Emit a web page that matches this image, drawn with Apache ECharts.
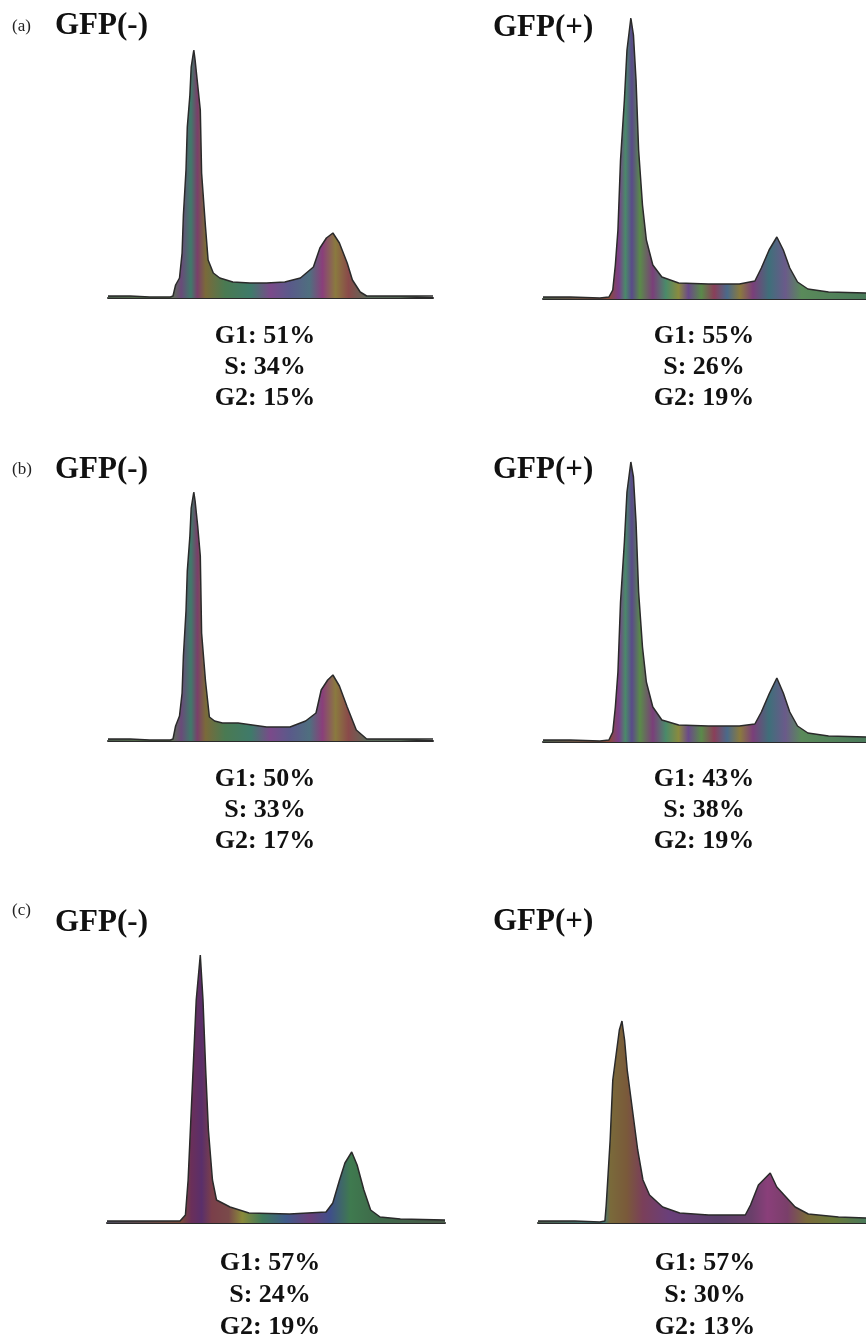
<!DOCTYPE html>
<html>
<head>
<meta charset="utf-8">
<script src="https://cdn.jsdelivr.net/npm/echarts@6/dist/echarts.min.js"></script>
<style>
html,body{margin:0;padding:0;background:#fff;}
#chart{width:866px;height:1336px;}
</style>
</head>
<body>
<div id="chart"></div>
<script>
// ---------------- DATA ----------------
// DNA-content histograms: [channel, cell count]
const aNeg = [[0,4],[17,4],[32,2],[48,2],[50,4],[52,26],[55,40],[57,90],[58,166],[60,256],[61,342],[63,406],[64,462],[66,496],[67,476],[69,426],[71,376],[72,250],[75,142],[77,76],[81,50],[86,40],[96,32],[109,30],[122,30],[136,32],[148,40],[158,62],[163,100],[168,120],[173,130],[178,110],[184,70],[188,36],[194,12],[199,4],[225,4],[250,4]];
const aPos = [[0,4],[21,4],[44,2],[51,4],[54,18],[56,68],[58,138],[60,278],[63,398],[65,498],[68,562],[70,528],[72,438],[74,298],[77,188],[80,118],[85,68],[92,44],[105,32],[128,30],[152,30],[164,36],[169,62],[175,98],[181,124],[186,98],[191,62],[197,34],[205,20],[221,14],[250,12]];
const bNeg = [[0,4],[17,4],[32,2],[48,2],[50,4],[52,30],[55,50],[57,96],[58,170],[60,260],[61,340],[63,410],[64,466],[66,498],[67,480],[69,430],[71,370],[72,216],[75,120],[78,48],[82,40],[88,36],[100,36],[122,28],[140,28],[152,40],[160,56],[164,102],[169,122],[173,132],[178,110],[184,68],[191,22],[199,4],[225,4],[250,4]];
const bPos = [[0,4],[21,4],[44,2],[51,4],[54,20],[56,70],[58,140],[60,280],[63,400],[65,500],[68,560],[70,530],[72,440],[74,300],[77,190],[80,120],[85,70],[92,44],[105,34],[128,32],[152,32],[164,36],[169,60],[175,96],[181,128],[186,98],[191,60],[197,32],[205,18],[221,12],[250,10]];
const cNeg = [[0,4],[32,4],[54,4],[58,16],[60,86],[62,206],[64,326],[66,446],[69,536],[71,446],[73,306],[75,186],[78,86],[81,46],[91,32],[105,20],[135,18],[162,22],[167,40],[172,86],[176,120],[181,142],[185,116],[190,66],[195,26],[202,12],[217,8],[250,6]];
const cPos = [[0,4],[28,4],[47,2],[51,4],[52,36],[55,166],[57,286],[60,346],[62,386],[64,404],[66,366],[68,306],[72,226],[76,146],[80,86],[85,56],[95,32],[108,20],[130,16],[158,16],[162,36],[168,76],[177,100],[182,72],[189,52],[196,32],[206,18],[229,12],[250,10]];

const histograms = [aNeg, aPos, bNeg, bPos, cNeg, cPos];
const rowTags = ['(a)', '(b)', '(c)'];
const panelTitles = ['GFP(-)', 'GFP(+)'];
const g1 = [51, 55, 50, 43, 57, 57];
const sPhase = [34, 26, 33, 38, 24, 30];
const g2 = [15, 19, 17, 19, 19, 13];

// ---------------- LAYOUT / STYLE ----------------
const CH_MAX = 250, Y_MAX = 580, GRID_H = 290;
const gridBox = [
  {left:108, base:298, width:325},
  {left:543, base:299, width:325},
  {left:108, base:741, width:325},
  {left:543, base:742, width:325},
  {left:107, base:1223, width:338},
  {left:538, base:1223, width:330}
];
const fills = [
  [[0,'#4a5a4a'],[0.19,'#5a7a4a'],[0.225,'#6a4a7a'],[0.255,'#3f7a6a'],[0.275,'#7a3f6a'],[0.3,'#7a6a3a'],[0.36,'#4a7a52'],[0.44,'#3f7a6a'],[0.5,'#7a4a8a'],[0.56,'#5a5a8a'],[0.62,'#4f6f7f'],[0.66,'#8a3f7a'],[0.7,'#8a7a3f'],[0.74,'#8a4a4a'],[0.8,'#5a6a5a'],[1,'#4a5a4a']],
  [[0,'#4a5a4a'],[0.205,'#8a4a3a'],[0.235,'#7a3f8a'],[0.255,'#4a8a6a'],[0.275,'#5a4a8a'],[0.3,'#5a8a4a'],[0.34,'#7a3f7a'],[0.38,'#4a8a6a'],[0.42,'#8a8a3f'],[0.45,'#6a4a8a'],[0.49,'#5a8a4a'],[0.53,'#8a3f5a'],[0.57,'#4a6a8a'],[0.61,'#8a7a3f'],[0.65,'#7a3f7a'],[0.7,'#3f6f7a'],[0.75,'#6a5a8a'],[0.8,'#5a8a5a'],[1,'#4a7a5a']],
  [[0,'#4a5a4a'],[0.19,'#5a7a4a'],[0.225,'#6a4a7a'],[0.255,'#3f7a6a'],[0.275,'#7a3f6a'],[0.3,'#7a6a3a'],[0.36,'#4a7a52'],[0.44,'#3f7a6a'],[0.5,'#7a4a8a'],[0.56,'#5a5a8a'],[0.62,'#4f6f7f'],[0.66,'#8a3f7a'],[0.7,'#8a7a3f'],[0.74,'#8a4a4a'],[0.8,'#5a6a5a'],[1,'#4a5a4a']],
  [[0,'#4a5a4a'],[0.205,'#8a4a3a'],[0.235,'#7a3f8a'],[0.255,'#4a8a6a'],[0.275,'#5a4a8a'],[0.3,'#5a8a4a'],[0.34,'#7a3f7a'],[0.38,'#4a8a6a'],[0.42,'#8a8a3f'],[0.45,'#6a4a8a'],[0.49,'#5a8a4a'],[0.53,'#8a3f5a'],[0.57,'#4a6a8a'],[0.61,'#8a7a3f'],[0.65,'#7a3f7a'],[0.7,'#3f6f7a'],[0.75,'#6a5a8a'],[0.8,'#5a8a5a'],[1,'#4a7a5a']],
  [[0,'#4a4a5a'],[0.22,'#7a4a3a'],[0.25,'#6a2f5a'],[0.28,'#5a2f6a'],[0.31,'#7a3f4a'],[0.36,'#7a4a4a'],[0.4,'#8a8a3a'],[0.46,'#3f7a5a'],[0.53,'#3f5a8a'],[0.6,'#6a3f7a'],[0.66,'#3f4f8a'],[0.72,'#3f7a4f'],[0.8,'#3f6a4a'],[1,'#4a5a4a']],
  [[0,'#4a5a4a'],[0.2,'#3f7a7a'],[0.22,'#7a6a3a'],[0.27,'#7a5a3a'],[0.32,'#7a3f5a'],[0.4,'#6a3f7a'],[0.55,'#5a3f6a'],[0.65,'#6a3f6a'],[0.7,'#8a3f7a'],[0.76,'#7a3f6a'],[0.82,'#7a6a3a'],[0.9,'#6a7a3a'],[1,'#4a7a5a']]
];

const grids = [], xAxes = [], yAxes = [], series = [];
histograms.forEach((data, i) => {
  const g = gridBox[i];
  grids.push({left:g.left, top:g.base - GRID_H, width:g.width, height:GRID_H, containLabel:false});
  xAxes.push({gridIndex:i, type:'value', min:0, max:CH_MAX,
    axisLine:{show:true, lineStyle:{color:'#2a2a2a', width:2}},
    axisTick:{show:false}, axisLabel:{show:false}, splitLine:{show:false}});
  yAxes.push({gridIndex:i, type:'value', min:0, max:Y_MAX, show:false, splitLine:{show:false}});
  series.push({type:'line', xAxisIndex:i, yAxisIndex:i, data:data, symbol:'none', silent:true,
    lineStyle:{color:'#2a2a2a', width:1.5},
    areaStyle:{opacity:1, color:new echarts.graphic.LinearGradient(0,0,1,0,
      fills[i].map(s => ({offset:s[0], color:s[1]})))}
  });
});

// text
const serif = '"Liberation Serif", "Times New Roman", serif';
const graphics = [];
const tagY = [27, 470, 911];
const titleY = [[26, 28], [470, 470], [923, 922]];
const statX = [[265, 704], [265, 704], [270, 705]];
const statY = [[336, 367, 398], [779, 810, 841], [1263, 1295, 1327]];
rowTags.forEach((t, r) => {
  graphics.push({type:'text', x:12, y:tagY[r], style:{text:t, font:'17px ' + serif, fill:'#222', textAlign:'left', textVerticalAlign:'middle'}});
  panelTitles.forEach((pt, c) => {
    graphics.push({type:'text', x:c === 0 ? 55 : 493, y:titleY[r][c],
      style:{text:pt, font:'bold 31px ' + serif, fill:'#111', textAlign:'left', textVerticalAlign:'middle'}});
    const k = r * 2 + c;
    const lines = ['G1: ' + g1[k] + '%', 'S: ' + sPhase[k] + '%', 'G2: ' + g2[k] + '%'];
    lines.forEach((ln, j) => {
      graphics.push({type:'text', x:statX[r][c], y:statY[r][j],
        style:{text:ln, font:'bold 26px ' + serif, fill:'#111', textAlign:'center', textVerticalAlign:'middle'}});
    });
  });
});

const chart = echarts.init(document.getElementById('chart'), null, {renderer:'canvas'});
chart.setOption({
  animation:false,
  backgroundColor:'#ffffff',
  grid:grids, xAxis:xAxes, yAxis:yAxes, series:series,
  graphic:graphics
});
</script>
</body>
</html>
